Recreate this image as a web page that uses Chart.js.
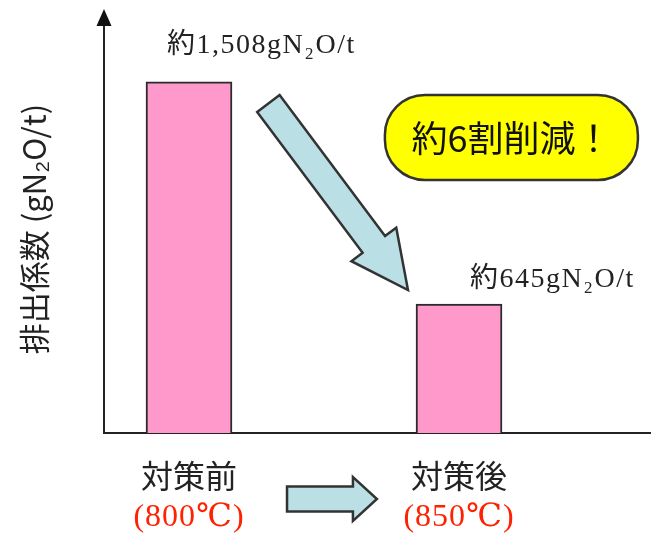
<!DOCTYPE html>
<html><head><meta charset="utf-8">
<script src="https://cdn.jsdelivr.net/npm/chart.js@4/dist/chart.umd.min.js"></script>
<style>html,body{margin:0;padding:0;background:#fff;overflow:hidden}</style>
</head><body>
<canvas id="c" width="651" height="543"></canvas>
<script>
// ---- data ----
const categories = ['対策前', '対策後'];
const temperatures = ['(800℃)', '(850℃)'];
const emissions = [1508, 645];
const unit = 'gN₂O/t';
const axisTitle = '排出係数 (gN₂O/t)';
const calloutText = '約6割削減！';

const CJK = '"Noto Sans CJK JP", "Noto Sans CJK SC", sans-serif';
const SERIF = '"Liberation Serif", "DejaVu Serif", "Noto Sans CJK JP", serif';

function drawArrow(ctx, x1, y1, x2, y2, sh, hh, hl, fill, stroke, lw) {
  const dx = x2 - x1, dy = y2 - y1, L = Math.hypot(dx, dy);
  const ux = dx / L, uy = dy / L, nx = -uy, ny = ux;
  const bx = x2 - ux * hl, by = y2 - uy * hl;
  ctx.beginPath();
  ctx.moveTo(x1 + nx * sh, y1 + ny * sh);
  ctx.lineTo(bx + nx * sh, by + ny * sh);
  ctx.lineTo(bx + nx * hh, by + ny * hh);
  ctx.lineTo(x2, y2);
  ctx.lineTo(bx - nx * hh, by - ny * hh);
  ctx.lineTo(bx - nx * sh, by - ny * sh);
  ctx.lineTo(x1 - nx * sh, y1 - ny * sh);
  ctx.closePath();
  ctx.fillStyle = fill; ctx.fill();
  ctx.lineJoin = 'miter';
  ctx.strokeStyle = stroke; ctx.lineWidth = lw; ctx.stroke();
}

const decor = {
  id: 'decor',
  afterDraw(chart) {
    const ctx = chart.ctx, ca = chart.chartArea;
    const xs = chart.scales.x, ys = chart.scales.y;
    ctx.save();
    // y-axis arrow head
    ctx.fillStyle = '#111';
    ctx.beginPath();
    ctx.moveTo(ca.left, ca.top - 16);
    ctx.lineTo(ca.left - 7.5, ca.top + 1);
    ctx.lineTo(ca.left + 7.5, ca.top + 1);
    ctx.closePath(); ctx.fill();

    // value labels
    const meta = chart.getDatasetMeta(0);
    const offs = [{dx: -22, dy: 36}, {dx: 11, dy: 24}];
    ctx.font = '28px ' + SERIF;
    ctx.fillStyle = '#222';
    ctx.textAlign = 'left';
    ctx.textBaseline = 'middle';
    try { ctx.letterSpacing = '1.5px'; } catch (e) {}
    meta.data.forEach((el, i) => {
      const txt = '約' + emissions[i].toLocaleString('en-US') + unit;
      ctx.fillText(txt, el.x + offs[i].dx, el.y - offs[i].dy);
    });

    // temperature sub-labels
    ctx.font = '32px ' + SERIF;
    ctx.fillStyle = '#FF2200';
    ctx.textAlign = 'center';
    try { ctx.letterSpacing = '1px'; } catch (e) {}
    temperatures.forEach((t, i) => {
      ctx.fillText(t, xs.getPixelForValue(i), ca.bottom + 85);
    });
    try { ctx.letterSpacing = '0px'; } catch (e) {}

    // diagonal arrow
    drawArrow(ctx,
      xs.getPixelForValue(0.294), ys.getPixelForValue(1424),
      xs.getPixelForValue(0.811), ys.getPixelForValue(699),
      14, 28, 57, '#BADFE4', '#333', 2.5);

    // horizontal arrow between categories
    const hy = ca.bottom + 66;
    drawArrow(ctx, xs.getPixelForValue(0.363), hy, xs.getPixelForValue(0.696), hy,
      12.5, 22, 24, '#BADFE4', '#333', 2.5);

    // callout
    const cx = xs.getPixelForValue(1.194), cy = ys.getPixelForValue(1292);
    const w = 253, h = 85, r = 40;
    ctx.beginPath();
    ctx.roundRect(cx - w / 2, cy - h / 2, w, h, r);
    ctx.fillStyle = '#FFFF00'; ctx.fill();
    ctx.strokeStyle = '#333'; ctx.lineWidth = 2.5; ctx.stroke();
    ctx.font = '36px ' + CJK;
    ctx.fillStyle = '#111';
    ctx.textAlign = 'center';
    ctx.textBaseline = 'middle';
    ctx.fillText(calloutText, cx, cy + 1);
    ctx.restore();
  }
};

new Chart(document.getElementById('c'), {
  type: 'bar',
  data: {
    datasets: [{
      data: categories.map((c, i) => ({x: i, y: emissions[i]})),
      backgroundColor: '#FF99CC',
      borderColor: '#2b2b2b',
      borderWidth: 2,
      barThickness: 86
    }]
  },
  options: {
    responsive: false,
    animation: false,
    layout: {padding: {top: 25, left: 0, right: 0, bottom: 0}},
    plugins: {legend: {display: false}, tooltip: {enabled: false}},
    scales: {
      x: {
        type: 'linear',
        offset: false,
        bounds: 'ticks',
        min: -0.3148, max: 1.711,
        grid: {display: false, drawTicks: false, offset: false},
        border: {display: true, color: '#222', width: 2},
        ticks: {
          font: {family: CJK, size: 32},
          color: '#222',
          padding: 24,
          autoSkip: false,
          maxRotation: 0,
          callback: v => categories[v] ?? ''
        },
        afterBuildTicks: s => { s.ticks = categories.map((c, i) => ({value: i})); },
        afterFit: s => { s.height = 110; }
      },
      y: {
        min: 143.6, max: 1729,
        grid: {display: false, drawTicks: false},
        border: {display: true, color: '#222', width: 2},
        ticks: {display: false},
        title: {
          display: true, text: axisTitle,
          font: {family: CJK, size: 31}, color: '#222',
          padding: {top: 16, bottom: 0}
        },
        afterFit: s => { s.width = 104; }
      }
    }
  },
  plugins: [decor]
});
</script>
</body></html>
